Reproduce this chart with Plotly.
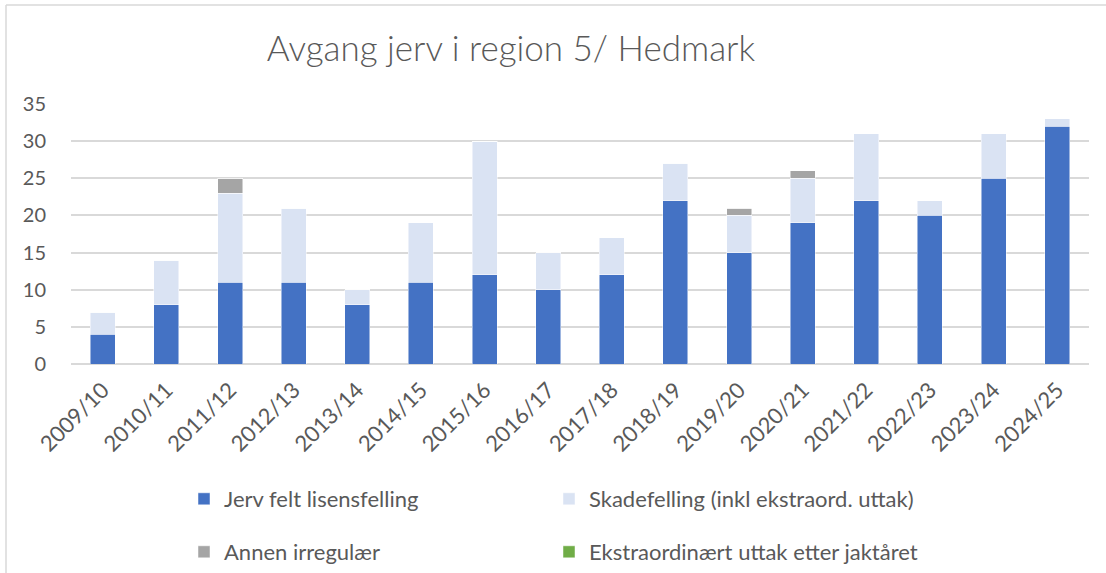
import plotly.graph_objects as go

seasons = ["2009/10", "2010/11", "2011/12", "2012/13", "2013/14", "2014/15", "2015/16", "2016/17",
           "2017/18", "2018/19", "2019/20", "2020/21", "2021/22", "2022/23", "2023/24", "2024/25"]
lisensfelling = [4, 8, 11, 11, 8, 11, 12, 10, 12, 22, 15, 19, 22, 20, 25, 32]
skadefelling = [3, 6, 12, 10, 2, 8, 18, 5, 5, 5, 5, 6, 9, 2, 6, 1]
annen_irregulaer = [0, 0, 2, 0, 0, 0, 0, 0, 0, 0, 1, 1, 0, 0, 0, 0]
ekstraordinaert = [0] * 16

names = ["Jerv felt lisensfelling", "Skadefelling (inkl ekstraord. uttak)",
         "Annen irregulær", "Ekstraordinært uttak etter jaktåret"]
colors = ["#4472C4", "#DAE3F3", "#A5A5A5", "#70AD47"]
series = [lisensfelling, skadefelling, annen_irregulaer, ekstraordinaert]
legends = ["legend", "legend2", "legend3", "legend4"]

FONT = "Lato, 'Open Sans', sans-serif"
TXT = "#595959"

fig = go.Figure()
for name, col, vals, lg in zip(names, colors, series, legends):
    fig.add_trace(go.Bar(
        x=seasons, y=vals, name=name, legend=lg,
        marker=dict(color=col, line=dict(color="rgba(255,255,255,0.6)", width=0.8)),
    ))

W, H = 1106, 573
L, R, T, B = 71, 17, 104, 209
pw = W - L - R
ph = H - T - B

def px_x(px):
    return (px - L) / pw

def px_y(py):
    return (H - B - py) / ph

def leg(xpx, ypx):
    return dict(orientation="h", x=px_x(xpx), xanchor="left", y=px_y(ypx), yanchor="middle",
                font=dict(size=22, color=TXT, family=FONT), itemclick=False,
                bgcolor="rgba(0,0,0,0)")

fig.update_layout(
    width=W, height=H,
    barmode="stack", bargap=0.607,
    plot_bgcolor="white", paper_bgcolor="white",
    margin=dict(l=L, r=R, t=T, b=B, autoexpand=False),
    font=dict(family=FONT, color=TXT, size=20),
    title=dict(text="Avgang jerv i region 5/ Hedmark", x=511 / W, xanchor="center",
               y=1 - 49 / H, yanchor="middle", xref="container", yref="container",
               font=dict(size=35, color=TXT, family=FONT, weight=300)),
    xaxis=dict(tickangle=-45, showgrid=False, showline=False, ticks="", automargin=False,
               ticklabelstandoff=8,
               tickfont=dict(size=22, color=TXT, family=FONT)),
    yaxis=dict(range=[0, 35], dtick=5, showgrid=True, gridcolor="#D9D9D9", gridwidth=1.5,
               zeroline=True, zerolinecolor="#D9D9D9", zerolinewidth=1.5, automargin=False,
               tickfont=dict(size=20, color=TXT, family=FONT), ticklabelstandoff=24),
    legend=leg(184, 499),
    legend2=leg(549, 499),
    legend3=leg(184, 552),
    legend4=leg(549, 552),
    showlegend=True,
)

# chart border (Excel chart area outline)
fig.add_shape(type="line", xref="paper", yref="paper", x0=px_x(6), x1=px_x(1110),
              y0=px_y(5), y1=px_y(5), line=dict(color="#D9D9D9", width=1.5))
fig.add_shape(type="line", xref="paper", yref="paper", x0=px_x(6), x1=px_x(6),
              y0=px_y(5), y1=px_y(580), line=dict(color="#D9D9D9", width=1.5))

fig.write_html("out.html", config={"displayModeBar": False},
               post_script="document.body.style.margin='0';document.body.style.overflow='hidden';")
